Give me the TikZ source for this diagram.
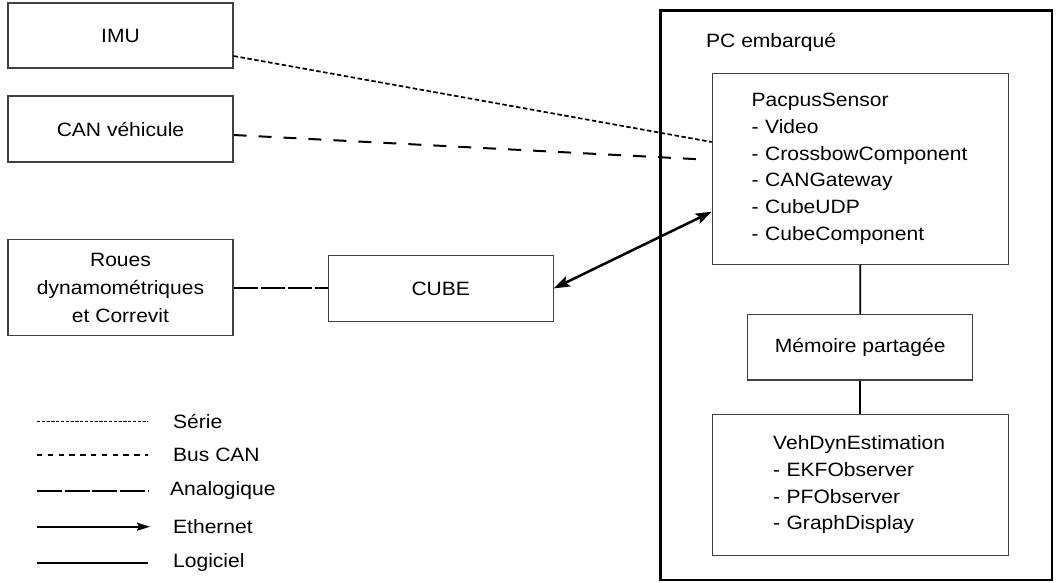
\documentclass[tikz,border=0pt]{standalone}
\usepackage{fontspec}
\setmainfont{Liberation Sans}[FakeStretch=1.09]
\usetikzlibrary{arrows.meta,calc}
\begin{document}
\begin{tikzpicture}[x=1pt,y=-1pt,
  txt/.style={font=\fontsize{19.3}{26.7}\selectfont, text=black},
  box/.style={draw=black!75, line width=1.1pt, rectangle, inner sep=0pt, txt},
  serie/.style={line width=1.7pt, dash pattern=on 4.5pt off 2.5pt},
  buscan/.style={line width=2pt, dash pattern=on 13pt off 12pt},
  analog/.style={line width=2pt, dash pattern=on 24pt off 3.3pt},
  ether/.style={line width=2.5pt, {Stealth[length=16pt,width=11pt,inset=3pt]}-{Stealth[length=16pt,width=11pt,inset=3pt]}},
  logi/.style={line width=1.7pt},
  legtxt/.style={txt, anchor=west, inner sep=0pt}
]
\useasboundingbox (0,0) rectangle (1057,583);

% PC container
\node[draw=black, line width=2.5pt, rectangle, inner sep=0pt, minimum width=391.3pt, minimum height=569.3pt] (pc) at (856.35,295.35) {};
\node[legtxt] (pctitle) at (706,42.7) {PC embarqué};

% left boxes
\node[box, minimum width=225pt, minimum height=65pt] (imu) at (120.5,35.5) {IMU};
\node[box, minimum width=225pt, minimum height=66pt] (can) at (120.5,129) {CAN véhicule};
\node[box, minimum width=225pt, minimum height=96pt, align=center, font=\fontsize{19.3}{28}\selectfont] (roues) at (120.5,287.5) {Roues\\dynamométriques\\et Correvit};
\node[box, minimum width=225pt, minimum height=65.3pt] (cube) at (440.75,288.4) {CUBE};

% inner boxes
\node[box, minimum width=296pt, minimum height=191pt, inner xsep=39.4pt, text width=217.2pt, align=left] (pacpus) at (860.3,168.8)
  {PacpusSensor\\- Video\\- CrossbowComponent\\- CANGateway\\- CubeUDP\\- CubeComponent};
\node[box, minimum width=225pt, minimum height=65.3pt] (mem) at (860.2,347.3) {Mémoire partagée};
\node[box, minimum width=296pt, minimum height=141.7pt, inner xsep=61pt, text width=174pt, align=left] (veh) at (860.2,484.9)
  {VehDynEstimation\\- EKFObserver\\- PFObserver\\- GraphDisplay};

% connectors
\coordinate (canend) at (703,159.5);
\draw[serie] ([yshift=-20.5pt]imu.east) -- ([yshift=26.8pt]pacpus.west);
\draw[buscan] ([yshift=-6pt]can.east) -- (canend);
\draw[analog] (roues.east |- cube.west) -- (cube.west);
\draw[ether] (cube.east) -- ([yshift=-42.9pt]pacpus.west);
\draw[logi] (pacpus.south) -- (mem.north);
\draw[logi] (mem.south) -- (veh.north);

% legend
\coordinate (s1) at (37,421.7);  \coordinate (s2) at (148,421.7);
\coordinate (b1) at (37,455);    \coordinate (b2) at (148,455);
\coordinate (a1) at (37,490.7);  \coordinate (a2) at (148,490.7);
\coordinate (e1) at (37,526.7);  \coordinate (e2) at (150,526.7);
\coordinate (g1) at (37,562.7);  \coordinate (g2) at (148,562.7);
\draw[line width=1.5pt, dash pattern=on 3.2pt off 1.6pt] (s1) -- (s2);
\draw[line width=1.6pt, dash pattern=on 5.4pt off 5.4pt] (b1) -- (b2);
\draw[line width=1.7pt, dash pattern=on 25pt off 2.7pt] (a1) -- (a2);
\draw[line width=1.9pt, -{Stealth[length=13pt,width=8pt,inset=2pt]}] (e1) -- (e2);
\draw[line width=1.9pt] (g1) -- (g2);
\node[legtxt] (lserie) at (173,421.7) {Série};
\node[legtxt] (lcan) at (173,455) {Bus CAN};
\node[legtxt] (lana) at (170,490.7) {Analogique};
\node[legtxt] (leth) at (173,526.7) {Ethernet};
\node[legtxt] (llog) at (173,562.7) {Logiciel};
\end{tikzpicture}
\end{document}
